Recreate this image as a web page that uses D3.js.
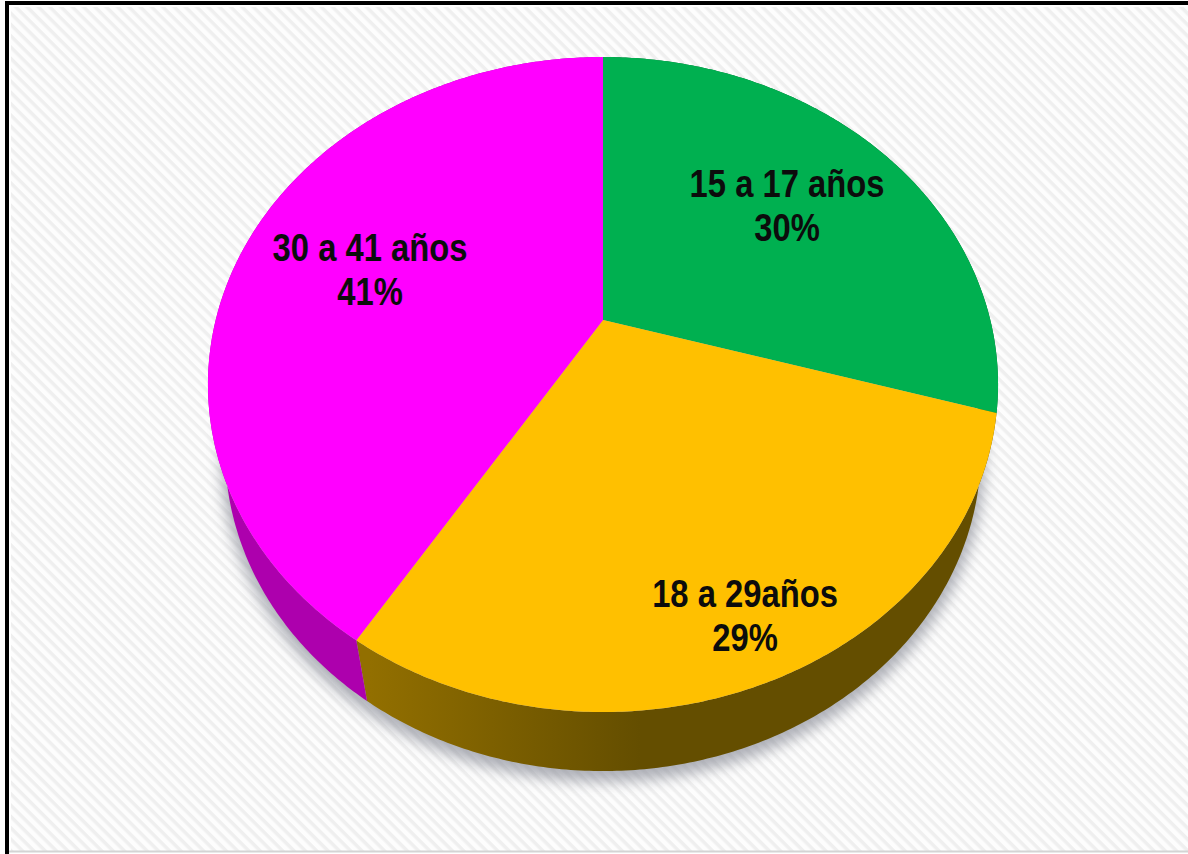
<!DOCTYPE html>
<html>
<head>
<meta charset="utf-8">
<script src="https://cdn.jsdelivr.net/npm/d3@7"></script>
<style>
  html, body { margin: 0; padding: 0; background: #fff; overflow: hidden; }
  svg { display: block; }
  text { font-family: "Liberation Sans", Arial, sans-serif; font-weight: bold; font-size: 38px; fill: #0c0c0c; }
</style>
</head>
<body>
<div id="chart"></div>
<script>
// values
const categories = ["15 a 17 años", "18 a 29años", "30 a 41 años"];
const shares = [29.5, 29.4, 41.1];
const topColors = ["#00b050", "#ffc000", "#ff00ff"];
const wallColors = ["#006a30", "url(#yellowWall)", "#ad00ad"];

const width = 1188;
const height = 854;

// the pie is seen in perspective, so the apex is not the middle of the ellipse
const tilt = 0.197;
const topDisc = { cx: 603, cy: 320, kx: 387.3, ky: 314.8 };
const bottomDisc = { cx: 603, cy: 388, kx: 370.5, ky: 307.6 };
const labelSpots = [[787, 197], [745, 607], [370, 261]];

function project(disc, angle) {
    const u = Math.sin(angle);
    const v = -Math.cos(angle);
    const w = 1 - tilt * v;
    return [disc.cx + disc.kx * u / w, disc.cy + disc.ky * v / w];
}

function rim(disc, a0, a1) {
    const n = Math.ceil((a1 - a0) / 0.01);
    return d3.range(n + 1).map(i => project(disc, a0 + (a1 - a0) * i / n));
}

const svg = d3.select("#chart")
    .append("svg")
    .attr("width", width).attr("height", height);

const defs = svg.append("defs");

const hatch = defs.append("pattern")
    .attr("id", "hatch")
    .attr("patternUnits", "userSpaceOnUse")
    .attr("width", 8).attr("height", 8)
    .attr("patternTransform", "rotate(45)");
hatch.append("rect").attr("width", 8).attr("height", 8).attr("fill", "#fdfdfd");
hatch.append("rect").attr("width", 8).attr("height", 3.5).attr("fill", "#efefef");

const wallGrad = defs.append("linearGradient")
    .attr("id", "yellowWall")
    .attr("gradientUnits", "userSpaceOnUse")
    .attr("x1", 370).attr("x2", 640).attr("y1", 0).attr("y2", 0);
wallGrad.append("stop").attr("offset", "0%").attr("stop-color", "#926f00");
wallGrad.append("stop").attr("offset", "45%").attr("stop-color", "#7d6000");
wallGrad.append("stop").attr("offset", "100%").attr("stop-color", "#644e00");

defs.append("filter")
    .attr("id", "soft")
    .attr("x", "-10%").attr("y", "-10%").attr("width", "120%").attr("height", "120%")
    .append("feGaussianBlur").attr("stdDeviation", 7);

// background and frame
svg.append("rect").attr("width", width).attr("height", height).attr("fill", "#fff");
svg.append("rect")
    .attr("x", 11).attr("y", 7)
    .attr("width", width - 11).attr("height", height - 10)
    .attr("fill", "url(#hatch)");
svg.append("path")
    .attr("d", `M7,${height} V3 H${width}`)
    .attr("fill", "none").attr("stroke", "#000").attr("stroke-width", 4);
svg.append("line")
    .attr("x1", 9).attr("x2", width).attr("y1", 851.5).attr("y2", 851.5)
    .attr("stroke", "#d4d4d4").attr("stroke-width", 2);

const pie = d3.pie().sort(null)(shares);
const line = d3.line();
const color = d3.scaleOrdinal(d3.range(categories.length), topColors);
const wall = d3.scaleOrdinal(d3.range(categories.length), wallColors);

// shadow under the pie
svg.append("path")
    .attr("d", line(rim(bottomDisc, 0, 2 * Math.PI)) + "Z")
    .attr("transform", "translate(0,7)")
    .attr("fill", "#8f929c").attr("stroke", "#8f929c").attr("stroke-width", 8)
    .attr("opacity", 0.7)
    .attr("filter", "url(#soft)");

// side wall, the top covers the part of it that is hidden
svg.append("g").selectAll("path")
    .data(pie)
    .enter().append("path")
    .attr("d", d => line(rim(topDisc, d.startAngle, d.endAngle)
        .concat(rim(bottomDisc, d.startAngle, d.endAngle).reverse())) + "Z")
    .attr("fill", d => wall(d.index));

// top of the pie
svg.append("g").selectAll("path")
    .data(pie)
    .enter().append("path")
    .attr("d", d => line([[topDisc.cx, topDisc.cy]].concat(rim(topDisc, d.startAngle, d.endAngle))) + "Z")
    .attr("fill", d => color(d.index));

// labels, the original is a bit squeezed sideways
const labels = svg.append("g").selectAll("g")
    .data(pie)
    .enter().append("g")
    .attr("transform", d => {
        const p = labelSpots[d.index];
        return `translate(${p[0]},${p[1]}) scale(0.862,1)`;
    });
labels.append("text")
    .attr("text-anchor", "middle")
    .text(d => categories[d.index]);
labels.append("text")
    .attr("text-anchor", "middle")
    .attr("y", 44)
    .text(d => Math.round(d.value) + "%");
</script>
</body>
</html>
